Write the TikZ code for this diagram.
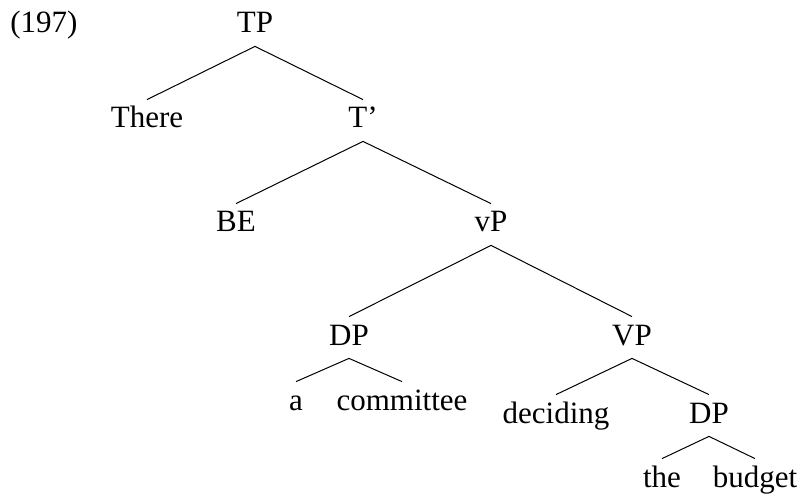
\documentclass[tikz,border=0pt]{standalone}
\usepackage{fontspec}
\setmainfont{Liberation Serif}
\usepackage{tikz}
\usetikzlibrary{positioning}

\begin{document}
\begin{tikzpicture}[
  x=0.5pt, y=-0.5pt,
  font=\fontsize{15.5}{18}\selectfont,
  cat/.style={
    anchor=base, inner xsep=0pt, inner ysep=3.75pt,
    text height=10.25pt, text depth=2.75pt
  },
  branch/.style={line width=0.5pt}
]
\useasboundingbox (0,0) rectangle (802,496);

\node[anchor=base west, inner sep=0pt] (exnum) at (10,33) {(197)};

\node[cat] (tp) at (255,33) {TP};
\node[cat] (there) at (147,128) {There};
\node[cat] (tbar) at (363,128) {T’};
\node[cat] (be) at (236,232) {BE};
\node[cat] (vp) at (491,232) {vP};
\node[cat] (dpsubj) at (349,345) {DP};
\node[cat] (vpbig) at (632,345) {VP};
\node[cat] (det) at (296,410) {a};
\node[cat] (comm) at (402,410) {committee};
\node[cat] (decid) at (556,423) {deciding};
\node[cat] (dpobj) at (709,423) {DP};
\node[cat] (the) at (662,487) {the};
\node[cat] (budg) at (755,487) {budget};

\draw[branch] (there.north)--(tp.south)--(tbar.north);
\draw[branch] (be.north)--(tbar.south)--(vp.north);
\draw[branch] (dpsubj.north)--(vp.south)--(vpbig.north);
\draw[branch] (det.north)--(dpsubj.south)--(comm.north);
\draw[branch] (decid.north)--(vpbig.south)--(dpobj.north);
\draw[branch] (the.north)--(dpobj.south)--(budg.north);
\end{tikzpicture}
\end{document}
